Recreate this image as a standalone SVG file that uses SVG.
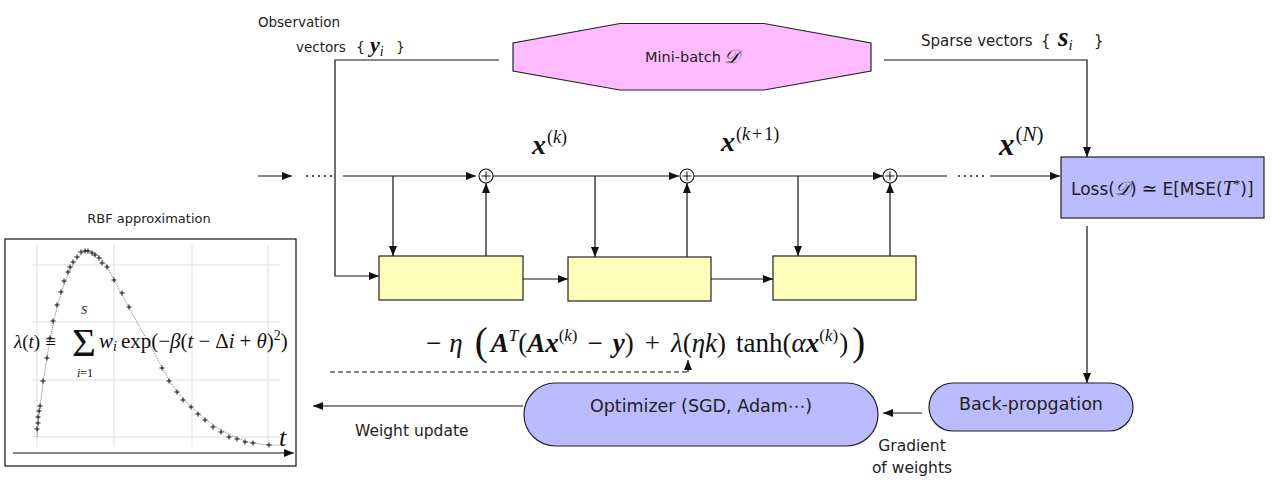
<svg xmlns="http://www.w3.org/2000/svg" xmlns:xlink="http://www.w3.org/1999/xlink" width="1277" height="486" viewBox="0 0 1277 486">
<style>
.sans{font-family:"DejaVu Sans","Liberation Sans",sans-serif;fill:#222}
.serif{font-family:"Liberation Serif","DejaVu Serif",serif;fill:#111}
.bi{font-weight:bold;font-style:italic}
.it{font-style:italic}
.ln{fill:none;stroke:#111;stroke-width:1.2}
.arr{marker-end:url(#ah)}
.dots{fill:none;stroke:#222;stroke-width:1.4;stroke-dasharray:2 4}
.node{stroke:#222;stroke-width:1.2}
.yel{fill:#ffffbb}
.blu{fill:#bbbbff}
.pnk{fill:#ffbbff}
.grid{stroke:#ddd;stroke-width:1;fill:none}
.pm{stroke:#111;stroke-width:1}
</style>
<defs>
<marker id="ah" viewBox="0 0 10 8" refX="10" refY="4" markerWidth="10" markerHeight="8" markerUnits="userSpaceOnUse" orient="auto"><path d="M0,0 L10,4 L0,8 z" fill="#111"/></marker>
<path id="pm" d="M-2.5,0h5M0,-2.5v5" class="pm"/>
</defs>

<!-- labels -->
<g id="lbl-obs">
<text class="sans" x="299" y="27" font-size="13.5" text-anchor="middle">Observation</text>
<text class="sans" x="296" y="52" font-size="13.5">vectors</text>
<text class="sans" x="356" y="52" font-size="14">{</text>
<text class="serif bi" x="370" y="52" font-size="22">y<tspan font-size="14" font-style="italic" font-weight="normal" dy="4">i</tspan></text>
<text class="sans" x="396" y="52" font-size="14">}</text>
</g>
<g id="lbl-sparse">
<text class="sans" x="921" y="46" font-size="15">Sparse vectors</text>
<text class="sans" x="1041" y="46" font-size="15">{</text>
<text class="serif bi" x="1058" y="46" font-size="27">s<tspan font-size="15" font-style="italic" font-weight="normal" dy="4">i</tspan></text>
<text class="sans" x="1094" y="46" font-size="15">}</text>
</g>

<!-- connectors -->
<g id="connectors">
<path class="ln arr" d="M258,176 H292"/>
<path class="dots" d="M306,176 H333"/>
<path class="ln arr" d="M343,176 H476"/>
<path class="ln arr" d="M493,176 H679"/>
<path class="ln arr" d="M693,176 H883"/>
<path class="ln" d="M897,176 H947"/>
<path class="dots" d="M958,176 H985"/>
<path class="ln arr" d="M990,176 H1060"/>
<path class="ln arr" d="M393,176 V256"/>
<path class="ln arr" d="M595,176 V257"/>
<path class="ln arr" d="M798,176 V256"/>
<path class="ln arr" d="M486,256 V183"/>
<path class="ln arr" d="M687,257 V183"/>
<path class="ln arr" d="M890,256 V183"/>
<path class="ln arr" d="M523,279 H568"/>
<path class="ln arr" d="M711,279 H773"/>
<path class="ln arr" d="M499,60 H335 V276 H379"/>
<path class="ln arr" d="M884,60 H1087 V157"/>
<path class="ln arr" d="M1087,226 V383"/>
<path class="ln arr" d="M922,413 H883"/>
<path class="ln arr" d="M523,406 H313"/>
<path class="ln" d="M330,372 H688" stroke-dasharray="5 3"/>
<path class="ln arr" d="M688,372 V360"/>
</g>

<!-- sum nodes -->
<g id="sum1"><circle cx="486" cy="176" r="7" fill="#fff" stroke="#111" stroke-width="1.1"/><path d="M481.5,176h9M486,171.5v9" stroke="#111" stroke-width="1"/></g>
<g id="sum2"><circle cx="687" cy="176" r="7" fill="#fff" stroke="#111" stroke-width="1.1"/><path d="M682.5,176h9M687,171.5v9" stroke="#111" stroke-width="1"/></g>
<g id="sum3"><circle cx="890" cy="176" r="7" fill="#fff" stroke="#111" stroke-width="1.1"/><path d="M885.5,176h9M890,171.5v9" stroke="#111" stroke-width="1"/></g>

<!-- state labels -->
<g id="lbl-xk"><text class="serif" x="532" y="154" font-size="28"><tspan class="bi">x</tspan><tspan font-size="18" dy="-11" dx="1">(<tspan class="it">k</tspan>)</tspan></text></g>
<g id="lbl-xk1"><text class="serif" x="721" y="151" font-size="28"><tspan class="bi">x</tspan><tspan font-size="18" dy="-11" dx="1">(<tspan class="it">k</tspan><tspan dx="2">+</tspan><tspan dx="2">1)</tspan></tspan></text></g>
<g id="lbl-xN"><text class="serif" x="999" y="155" font-size="31"><tspan class="bi">x</tspan><tspan font-size="21" dy="-14" dx="1">(<tspan class="it">N</tspan>)</tspan></text></g>

<!-- minibatch -->
<g id="minibatch">
<polygon class="node pnk" points="620,23.5 764,23.5 871,43 871,71 764,90 620,90 513,71 513,43"/>
<text class="sans" x="645" y="62" font-size="14.5">Mini-batch</text>
<text class="serif it" x="724" y="63" font-size="19">𝒟</text>
</g>

<!-- blocks -->
<g id="block1"><rect class="node yel" x="379" y="256" width="144" height="44"/></g>
<g id="block2"><rect class="node yel" x="568" y="257" width="143" height="44"/></g>
<g id="block3"><rect class="node yel" x="773" y="256" width="143" height="44"/></g>

<!-- loss -->
<g id="loss">
<rect class="node blu" x="1061" y="157" width="203" height="61"/>
<text x="1071" y="195" font-size="17"><tspan class="sans">Loss(</tspan><tspan class="serif it" font-size="19">𝒟</tspan><tspan class="sans">)</tspan><tspan class="serif" font-size="19" dx="5">≃</tspan><tspan class="sans" dx="5">E[MSE(</tspan><tspan class="serif it" font-size="20">T</tspan><tspan class="serif" font-size="13" dy="-7">*</tspan><tspan class="sans" dy="7">)]</tspan></text>
</g>

<!-- backprop -->
<g id="backprop">
<rect class="node blu" x="929" y="383" width="204" height="48" rx="24"/>
<text class="sans" x="1031" y="410" font-size="17.5" text-anchor="middle">Back-propgation</text>
</g>

<!-- optimizer -->
<g id="optimizer">
<rect class="node blu" x="524" y="383" width="354" height="63" rx="31.5"/>
<text class="sans" x="701" y="412" font-size="17.5" text-anchor="middle">Optimizer (SGD, Adam⋯)</text>
</g>

<g id="lbl-wu"><text class="sans" x="355" y="436" font-size="15.5">Weight update</text></g>
<g id="lbl-grad">
<text class="sans" x="912" y="451" font-size="15.5" text-anchor="middle">Gradient</text>
<text class="sans" x="912" y="473" font-size="15.5" text-anchor="middle">of weights</text>
</g>

<!-- update formula -->
<g id="lbl-update">
<text class="serif" x="426" y="352" font-size="27">−<tspan class="it" dx="8">η</tspan><tspan font-size="39" dy="3" dx="12">(</tspan><tspan class="bi" dy="-3" dx="3">A</tspan><tspan class="it" font-size="17" dy="-11">T</tspan><tspan dy="11">(</tspan><tspan class="bi">A</tspan><tspan class="bi">x</tspan><tspan font-size="17" dy="-11">(<tspan class="it">k</tspan>)</tspan><tspan dy="11" dx="10">−</tspan><tspan class="bi" dx="10">y</tspan>)<tspan dx="11">+</tspan><tspan class="it" dx="11">λ</tspan>(<tspan class="it">ηk</tspan>)<tspan dx="10">tanh(</tspan><tspan class="it">α</tspan><tspan class="bi">x</tspan><tspan font-size="17" dy="-11">(<tspan class="it">k</tspan>)</tspan><tspan dy="11" dx="1">)</tspan><tspan font-size="39" dy="3" dx="4">)</tspan></text>
</g>

<!-- RBF plot -->
<g id="rbf">
<text class="sans" x="149" y="223" font-size="13" text-anchor="middle">RBF approximation</text>
<rect x="5" y="239" width="291" height="227" fill="#fff" stroke="#111" stroke-width="1.2"/>
<path class="grid" d="M37,245V447M114,245V447M192,245V447M268,245V447M32,265H280M32,322H280M32,380H280M32,437H280"/>
<path d="M37,437 C39,410 45,365 52,330 C60,290 70,262 85,251 C95,249 105,260 114,280 C130,310 150,345 170,382 C190,410 215,430 245,441 C260,445 270,445 280,445" fill="none" stroke="#555" stroke-width="0.8" stroke-dasharray="1 1"/>
<g>
<use xlink:href="#pm" x="37" y="429"/><use xlink:href="#pm" x="38" y="423"/><use xlink:href="#pm" x="38" y="417"/><use xlink:href="#pm" x="39" y="411"/><use xlink:href="#pm" x="40" y="406"/><use xlink:href="#pm" x="43" y="381"/><use xlink:href="#pm" x="47" y="358"/><use xlink:href="#pm" x="50" y="338"/><use xlink:href="#pm" x="53" y="321"/><use xlink:href="#pm" x="57" y="305"/><use xlink:href="#pm" x="61" y="292"/><use xlink:href="#pm" x="64" y="281"/><use xlink:href="#pm" x="68" y="272"/><use xlink:href="#pm" x="70" y="267"/><use xlink:href="#pm" x="73" y="262"/><use xlink:href="#pm" x="77" y="257"/><use xlink:href="#pm" x="81" y="252"/><use xlink:href="#pm" x="85" y="251"/><use xlink:href="#pm" x="88" y="251"/><use xlink:href="#pm" x="92" y="253"/><use xlink:href="#pm" x="95" y="255"/><use xlink:href="#pm" x="99" y="258"/><use xlink:href="#pm" x="102" y="263"/><use xlink:href="#pm" x="107" y="267"/><use xlink:href="#pm" x="114" y="280"/><use xlink:href="#pm" x="122" y="293"/><use xlink:href="#pm" x="129" y="307"/><use xlink:href="#pm" x="162" y="368"/><use xlink:href="#pm" x="169" y="381"/><use xlink:href="#pm" x="177" y="392"/><use xlink:href="#pm" x="183" y="400"/><use xlink:href="#pm" x="191" y="407"/><use xlink:href="#pm" x="198" y="414"/><use xlink:href="#pm" x="205" y="420"/><use xlink:href="#pm" x="213" y="427"/><use xlink:href="#pm" x="221" y="432"/><use xlink:href="#pm" x="229" y="437"/><use xlink:href="#pm" x="237" y="439"/><use xlink:href="#pm" x="245" y="442"/><use xlink:href="#pm" x="253" y="443"/><use xlink:href="#pm" x="269" y="445"/>
</g>
<path class="ln arr" d="M13,453 H294"/>
<text class="serif it" x="279" y="446" font-size="26">t</text>
<text class="serif" x="14" y="348" font-size="19"><tspan class="it">λ</tspan>(<tspan class="it">t</tspan>)<tspan dx="5">≡</tspan></text>
<text class="serif" x="84" y="356" font-size="41" text-anchor="middle">Σ</text>
<text class="serif it" x="84" y="314" font-size="12" text-anchor="middle">S</text>
<text class="serif" x="85" y="377" font-size="12" text-anchor="middle"><tspan class="it">i</tspan>=1</text>
<text class="serif" x="99" y="348" font-size="21"><tspan class="it">w</tspan><tspan class="it" font-size="14" dy="3">i</tspan><tspan dy="-3" dx="4">exp(−</tspan><tspan class="it">β</tspan>(<tspan class="it">t</tspan><tspan dx="5">−</tspan><tspan dx="5">Δ</tspan><tspan class="it">i</tspan><tspan dx="5">+</tspan><tspan class="it" dx="5">θ</tspan>)<tspan font-size="14" dy="-8">2</tspan><tspan dy="8">)</tspan></text>
</g>
</svg>
